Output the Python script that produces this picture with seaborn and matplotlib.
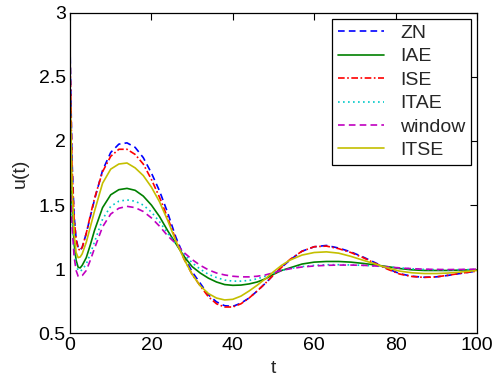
import matplotlib
matplotlib.use("Agg")
import matplotlib.pyplot as plt
import seaborn as sns
import pandas as pd

t = [0, 0.5, 1, 1.5, 2, 2.5, 3, 4, 5, 6, 8, 10, 12, 14, 16, 18, 20, 22, 24, 26,
     28, 30, 32, 34, 36, 38, 40, 42, 44, 46, 48, 50, 52, 54, 57, 60, 63, 66, 69,
     72, 75, 78, 81, 84, 87, 90, 93, 96, 100]

zn = [2.74, 1.85, 1.42, 1.24, 1.17, 1.15, 1.17, 1.28, 1.41, 1.54, 1.77, 1.91, 1.975, 1.985,
      1.95, 1.87, 1.75, 1.61, 1.44, 1.25, 1.10, 0.98, 0.89, 0.80, 0.745, 0.715, 0.71, 0.735,
      0.775, 0.83, 0.89, 0.955, 1.015, 1.07, 1.14, 1.175, 1.185, 1.165, 1.135, 1.095, 1.05,
      1.005, 0.965, 0.945, 0.937, 0.94, 0.952, 0.967, 0.985]
iae = [2.0, 1.5, 1.2, 1.07, 1.015, 1.01, 1.03, 1.09, 1.19, 1.30, 1.48, 1.58, 1.62, 1.63,
       1.615, 1.57, 1.50, 1.41, 1.30, 1.20, 1.10, 1.02, 0.97, 0.93, 0.90, 0.88, 0.874, 0.876,
       0.885, 0.90, 0.925, 0.96, 0.99, 1.01, 1.04, 1.055, 1.06, 1.06, 1.055, 1.045, 1.033,
       1.02, 1.005, 0.995, 0.99, 0.99, 0.99, 0.993, 0.995]
ise = [2.68, 1.80, 1.40, 1.23, 1.16, 1.145, 1.17, 1.28, 1.42, 1.55, 1.76, 1.88, 1.935, 1.935,
       1.895, 1.82, 1.70, 1.56, 1.40, 1.23, 1.08, 0.96, 0.87, 0.785, 0.73, 0.705, 0.705, 0.73,
       0.775, 0.83, 0.89, 0.955, 1.015, 1.075, 1.14, 1.175, 1.18, 1.16, 1.13, 1.09, 1.045,
       1.0, 0.962, 0.943, 0.936, 0.94, 0.953, 0.968, 0.985]
itae = [1.9, 1.42, 1.15, 1.03, 0.99, 0.985, 0.995, 1.04, 1.12, 1.21, 1.39, 1.49, 1.53, 1.54,
        1.53, 1.50, 1.445, 1.37, 1.28, 1.20, 1.12, 1.05, 1.0, 0.96, 0.935, 0.915, 0.907, 0.907,
        0.912, 0.925, 0.945, 0.97, 0.99, 1.005, 1.02, 1.03, 1.035, 1.035, 1.033, 1.03, 1.025,
        1.018, 1.01, 1.003, 0.998, 0.996, 0.995, 0.996, 0.998]
window = [1.75, 1.35, 1.10, 0.99, 0.945, 0.94, 0.95, 0.99, 1.07, 1.16, 1.33, 1.43, 1.475, 1.49,
          1.48, 1.45, 1.40, 1.335, 1.26, 1.20, 1.13, 1.075, 1.03, 0.995, 0.97, 0.955, 0.945, 0.94,
          0.94, 0.945, 0.955, 0.972, 0.99, 1.003, 1.017, 1.025, 1.03, 1.032, 1.032, 1.03, 1.025,
          1.018, 1.01, 1.004, 1.0, 0.998, 0.997, 0.998, 1.0]
itse = [2.45, 1.65, 1.28, 1.13, 1.09, 1.095, 1.12, 1.21, 1.33, 1.45, 1.67, 1.78, 1.82, 1.828,
        1.79, 1.73, 1.64, 1.525, 1.38, 1.22, 1.08, 0.96, 0.87, 0.81, 0.775, 0.76, 0.765, 0.79,
        0.83, 0.875, 0.925, 0.98, 1.03, 1.07, 1.11, 1.13, 1.135, 1.125, 1.10, 1.07, 1.04,
        1.01, 0.985, 0.972, 0.966, 0.966, 0.97, 0.978, 0.99]

names = ["ZN", "IAE", "ISE", "ITAE", "window", "ITSE"]
series = [zn, iae, ise, itae, window, itse]

xticks = [0, 20, 40, 60, 80, 100]
yticks = [0.5, 1, 1.5, 2, 2.5, 3]
ytick_labels = ["0.5", "1", "1.5", "2", "2.5", "3"]

rows = []
for n, s in zip(names, series):
    for ti, ui in zip(t, s):
        rows.append({"t": ti, "u": ui, "method": n})
df = pd.DataFrame(rows)

sns.set_style("white")
plt.rcParams["font.family"] = ["Liberation Sans", "DejaVu Sans"]

palette = {"ZN": "#0000ff", "IAE": "#008000", "ISE": "#ff0000",
           "ITAE": "#00c8c8", "window": "#c000c0", "ITSE": "#c4bf00"}
dashes = {"ZN": (4, 2.5), "IAE": "", "ISE": (4, 1.5, 1, 1.5),
          "ITAE": (1, 2), "window": (4, 2.5), "ITSE": ""}

fig = plt.figure(figsize=(5.0, 3.79), dpi=100)
ax = fig.add_axes([70 / 500, (379 - 333.3) / 379, 407 / 500, 320.6 / 379])

sns.lineplot(data=df, x="t", y="u", hue="method", style="method",
             hue_order=names, style_order=names, palette=palette,
             dashes=dashes, linewidth=1.2, sort=False, estimator=None, ax=ax)

ax.set_xlim(0, 100)
ax.set_ylim(0.5, 3)
ax.set_xticks(xticks)
ax.set_xticklabels([str(x) for x in xticks])
ax.set_yticks(yticks)
ax.set_yticklabels(ytick_labels)
ax.tick_params(direction="in", length=5, width=0.8, top=True, right=True,
               labelsize=14, pad=3, colors="black")
for sp in ax.spines.values():
    sp.set_visible(True)
    sp.set_color("black")
    sp.set_linewidth(0.9)
ax.set_xlabel("t", fontsize=14, labelpad=4)
ax.set_ylabel("u(t)", fontsize=14, labelpad=7)

handles, labels = ax.get_legend_handles_labels()
leg = ax.legend(handles, labels, loc="upper right", fontsize=14, frameon=True,
                fancybox=False, framealpha=1, edgecolor="black",
                borderaxespad=0.3, handlelength=2.4, handletextpad=0.8,
                labelspacing=0.3, borderpad=0.3)
leg.get_frame().set_linewidth(0.9)

fig.savefig("out.png", dpi=100)
